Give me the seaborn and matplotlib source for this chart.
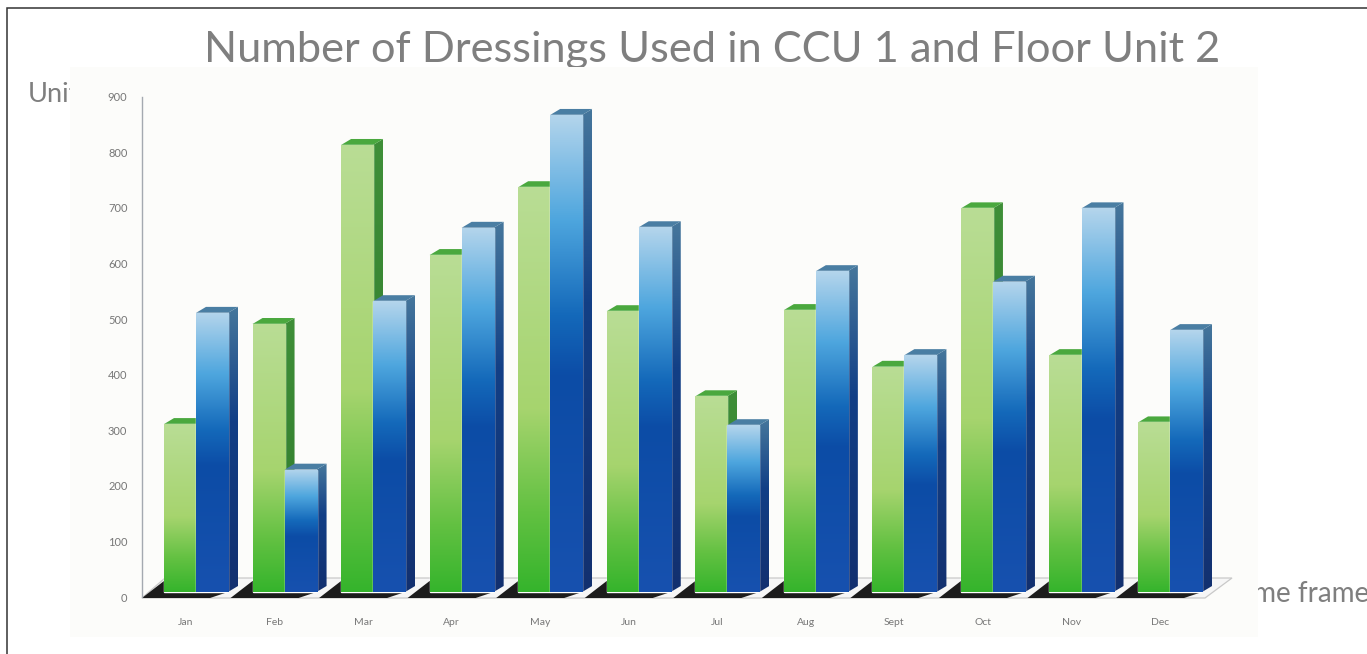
import numpy as np
import pandas as pd
import seaborn as sns
import matplotlib.pyplot as plt
from matplotlib.colors import LinearSegmentedColormap
from matplotlib.patches import Polygon, Rectangle
from matplotlib.transforms import ScaledTranslation

months = ['Jan', 'Feb', 'Mar', 'Apr', 'May', 'Jun', 'Jul', 'Aug', 'Sept', 'Oct', 'Nov', 'Dec']
ccu_1 = [302, 482, 804, 606, 728, 505, 352, 507, 405, 690, 426, 305]
floor_unit_2 = [502, 220, 523, 655, 858, 656, 300, 577, 426, 558, 690, 471]
y_ticks = [0, 100, 200, 300, 400, 500, 600, 700, 800, 900]

sns.set_theme(style='white')
plt.rcParams['font.family'] = ['Lato', 'DejaVu Sans']

df = pd.DataFrame({
    'month': months * 2,
    'unit': ['CCU 1'] * 12 + ['Floor Unit 2'] * 12,
    'count': ccu_1 + floor_unit_2,
})

W, H = 1367, 654
fig = plt.figure(figsize=(W / 100, H / 100), dpi=100, facecolor='white')

# pixels per data unit
PX_X = 88.55
PX_Y = 0.556
DEPTH_X = 10 / PX_X
DEPTH_Y = 6 / PX_Y

# the text sits behind the pasted picture, so parts of it are hidden
fig.text(712, H - 62, 'Number of Dressings Used in CCU 1 and Floor Unit 2', transform=None,
         ha='center', va='baseline', fontsize=31.2, color='#7f7f7f', zorder=-2)
fig.text(28, H - 102, 'Units', transform=None, ha='left', va='baseline',
         fontsize=19.5, color='#7f7f7f', zorder=-2)
fig.text(1230, H - 602, 'Time frame', transform=None, ha='left', va='baseline',
         fontsize=20, color='#7f7f7f', zorder=-2)

# outer frame, runs off the right and bottom of the page
fig.add_artist(Rectangle((6.5, -10), W + 20, H - 8 + 10, transform=None, fill=False,
                         edgecolor='#333333', linewidth=1.1, zorder=-3))
# picture background
fig.add_artist(Rectangle((70, H - 637), 1188, 570, transform=None, facecolor='#fcfcfa',
                         edgecolor='none', zorder=-1))

ax = fig.add_axes([142 / W, (H - 597) / H, (1258 - 142) / W, (597 - 67) / H])
ax.patch.set_alpha(0)

sns.barplot(data=df, x='month', y='count', hue='unit', order=months, width=0.723, gap=0,
            palette=['#8fcc5c', '#1656ae'], legend=False, saturation=1, ax=ax)

green_cmap = LinearSegmentedColormap.from_list('g', [(0, '#b9dd95'), (0.55, '#a6d46e'), (0.8, '#63c142'), (1, '#35b42c')])
blue_cmap = LinearSegmentedColormap.from_list('b', [(0, '#b4d5ec'), (0.22, '#4ea6de'), (0.42, '#1469ba'), (0.55, '#0c4ca6'), (1, '#1751af')])
green_side = LinearSegmentedColormap.from_list('gs', ['#3f8f38', '#2f7a2c'])
blue_side = LinearSegmentedColormap.from_list('bs', [(0, '#46779c'), (0.4, '#123f86'), (1, '#13306f')])
tops = {'g': '#4aa83e', 'b': '#4a7ea3'}


def fill_gradient(patch, cmap, x0, x1, y0, y1, z):
    ax.add_patch(patch)
    patch.set_zorder(z)
    im = ax.imshow(np.linspace(0, 1, 256).reshape(-1, 1), cmap=cmap, aspect='auto',
                   extent=(x0, x1, y0, y1), origin='upper', zorder=z + 0.01)
    im.set_clip_path(patch)


def px_x(p):
    return (p - 196) / PX_X


def px_y(p):
    return (592 - p) / PX_Y


# floor plate
ax.add_patch(Polygon([(px_x(142), px_y(598)), (px_x(165), px_y(578)), (px_x(1232), px_y(578)), (px_x(1205), px_y(598))],
                     facecolor='#f6f6f6', edgecolor='#c9c9c9', linewidth=0.9, clip_on=False, zorder=0.5))

green_bars, blue_bars = ax.containers[0], ax.containers[1]
z = 2
for g, b in zip(green_bars, blue_bars):
    left = g.get_x()
    right = b.get_x() + b.get_width()
    # shadow on the floor
    ax.add_patch(Polygon([(left - 22 / PX_X, px_y(598)), (left, px_y(581)), (right, px_y(581)), (right, px_y(592)),
                          (right - 18 / PX_X, px_y(598))],
                         facecolor='#1c1c1c', edgecolor='none', clip_on=False, zorder=1))
    for bar, front, side, top in [(g, green_cmap, green_side, tops['g']), (b, blue_cmap, blue_side, tops['b'])]:
        x0, x1 = bar.get_x(), bar.get_x() + bar.get_width()
        h = bar.get_height()
        # depth faces come from the bar geometry
        side_face = Polygon([(x1, 0), (x1 + DEPTH_X, DEPTH_Y), (x1 + DEPTH_X, h + DEPTH_Y), (x1, h)],
                            facecolor='none', edgecolor='none')
        fill_gradient(side_face, side, x1, x1 + DEPTH_X, 0, h + DEPTH_Y, z)
        ax.add_patch(Polygon([(x0, h), (x0 + DEPTH_X, h + DEPTH_Y), (x1 + DEPTH_X, h + DEPTH_Y), (x1, h)],
                             facecolor=top, edgecolor='none', zorder=z + 0.02))
        bar.set_zorder(z + 0.03)
        im = ax.imshow(np.linspace(0, 1, 256).reshape(-1, 1), cmap=front, aspect='auto',
                       extent=(x0, x1, 0, h), origin='upper', zorder=z + 0.04)
        im.set_clip_path(bar)
        z += 1

ax.set_xlim(px_x(142), px_x(1258))
ax.set_ylim(px_y(597), px_y(67))
ax.set_xlabel('')
ax.set_ylabel('')
ax.set_yticks(y_ticks)

for name in ['top', 'right', 'bottom']:
    ax.spines[name].set_visible(False)
ax.spines['left'].set_color('#a4a9b0')
ax.spines['left'].set_linewidth(1)
ax.spines['left'].set_bounds(px_y(597), px_y(97))

ax.tick_params(axis='y', length=0, pad=10.5, labelsize=8, labelcolor='#777777')
ax.tick_params(axis='x', length=0, pad=15, labelsize=7.5, labelcolor='#777777')
for label in ax.get_yticklabels():
    label.set_transform(label.get_transform() + ScaledTranslation(0, -5 / 100, fig.dpi_scale_trans))
for label in ax.get_xticklabels():
    label.set_transform(label.get_transform() + ScaledTranslation(-10 / 100, 0, fig.dpi_scale_trans))

fig.savefig('out.png', dpi=100)
